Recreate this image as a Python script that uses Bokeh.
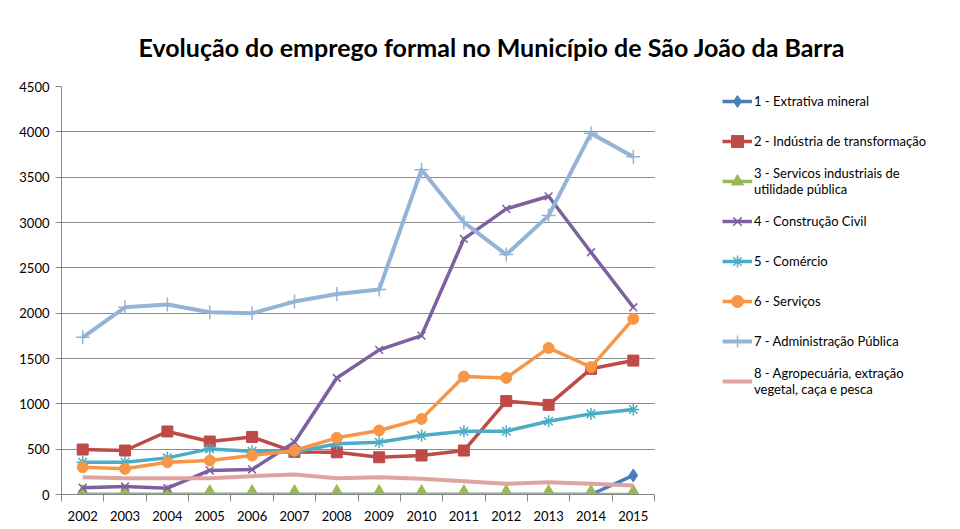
from bokeh.plotting import figure
from bokeh.models import FixedTicker, Legend, LegendItem, BoxAnnotation
from bokeh.embed import file_html
from bokeh.resources import INLINE

years = [2002, 2003, 2004, 2005, 2006, 2007, 2008, 2009, 2010, 2011, 2012, 2013, 2014, 2015]

extrativa = [0, 0, 0, 0, 0, 0, 0, 0, 0, 0, 0, 0, 0, 210]
industria = [496, 485, 695, 584, 635, 470, 465, 411, 430, 485, 1030, 989, 1386, 1477]
servicos_ind = [0, 0, 0, 0, 0, 0, 0, 0, 0, 0, 0, 0, 0, 0]
construcao = [74, 88, 70, 265, 276, 577, 1285, 1595, 1753, 2819, 3150, 3289, 2672, 2065]
comercio = [356, 356, 404, 503, 478, 467, 559, 577, 650, 698, 698, 808, 889, 937]
servicos = [301, 283, 356, 375, 430, 485, 625, 706, 834, 1301, 1286, 1617, 1404, 1937]
administracao = [1734, 2065, 2095, 2010, 1999, 2128, 2212, 2260, 3583, 3002, 2646, 3076, 3983, 3726]
agropecuaria = [191, 180, 180, 180, 202, 220, 180, 191, 173, 147, 118, 136, 118, 99]

labels = [
    "1 - Extrativa mineral",
    "2 - Indústria de transformação",
    "3 - Servicos industriais de\nutilidade pública",
    "4 - Construção Civil",
    "5 - Comércio",
    "6 - Serviços",
    "7 - Administração Pública",
    "8 - Agropecuária, extração\nvegetal, caça e pesca",
]
y_ticks = [0, 500, 1000, 1500, 2000, 2500, 3000, 3500, 4000, 4500]

series = [extrativa, industria, servicos_ind, construcao, comercio, servicos, administracao, agropecuaria]
colors = ["#4A7EBB", "#BE4B48", "#98B954", "#7D60A0", "#4BACC6", "#F79646", "#95B3D7", "#DFA3A2"]
markers = ["diamond", "square", "triangle", "x", "asterisk", "circle", "cross", None]
msizes = [13, 11, 17, 11, 12, 11, 14, 0]

FONT = "Lato"

# plot area: 593 px for the 14 categories; frame extended to the right to host the legend
cat_px = 593 / len(years)
frame_w = 891
x0 = years[0] - 0.5
x_plot_end = years[-1] + 0.5
x1 = x0 + frame_w / cat_px

p = figure(frame_width=frame_w, frame_height=408, x_range=(x0, x1), y_range=(0, 4500),
           output_backend="svg", toolbar_location=None,
           min_border_left=61, min_border_right=0, min_border_top=86, min_border_bottom=30)

p.title.text = "Evolução do emprego formal no Município de São João da Barra"
p.title.text_font = FONT
p.title.text_font_size = "25px"
p.title.text_font_style = "bold"
p.title.align = "left"
p.title.offset = 77
p.title.standoff = 50
p.title.text_color = "#000000"

p.outline_line_color = None
p.xgrid.grid_line_color = None
p.ygrid.grid_line_color = "#8C8C8C"
p.ygrid.grid_line_width = 1

p.yaxis.ticker = FixedTicker(ticks=y_ticks)
p.xaxis.ticker = FixedTicker(ticks=years, minor_ticks=[y - 0.5 for y in years] + [x_plot_end])
p.xaxis.bounds = (x0, x_plot_end)
for ax in (p.xaxis, p.yaxis):
    ax.axis_line_color = "#868686"
    ax.major_label_text_font = FONT
    ax.major_label_text_font_size = "13px"
    ax.major_label_text_color = "#000000"
p.yaxis.major_tick_line_color = "#868686"
p.yaxis.major_tick_out = 6
p.yaxis.major_tick_in = 0
p.yaxis.minor_tick_line_color = None
p.yaxis.major_label_standoff = 6
p.xaxis.major_tick_line_color = None
p.xaxis.minor_tick_line_color = "#868686"
p.xaxis.minor_tick_out = 7
p.xaxis.minor_tick_in = 0
p.xaxis.major_label_standoff = 9

items = []
for i, (vals, col, mk, ms, lab) in enumerate(zip(series, colors, markers, msizes, labels)):
    rs = []
    lw = 4 if i in (6, 7) else 3.5
    rl = p.line(years, vals, line_color=col, line_width=lw, line_join="round")
    rs.append(rl)
    if mk is not None:
        if mk in ("x", "asterisk", "cross"):
            rm = p.scatter(years, vals, marker=mk, size=ms, line_color=col, line_width=1.5, fill_color=None)
        else:
            rm = p.scatter(years, vals, marker=mk, size=ms, line_color=col, fill_color=col)
        rs.append(rm)
    items.append(LegendItem(label=lab, renderers=rs))

# blank out the gridlines in the legend area (right of the plot area)
p.add_layout(BoxAnnotation(left=x_plot_end + 0.01, fill_color="white", fill_alpha=1.0, line_color=None))

legend = Legend(items=items, location=(661, 97), padding=0, spacing=8, margin=0,
                glyph_width=30, glyph_height=32, label_height=32, label_standoff=2,
                label_text_font=FONT, label_text_font_size="13px", label_text_color="#000000",
                border_line_color=None, background_fill_alpha=0)
p.add_layout(legend)

open("out.html", "w").write(file_html(p, INLINE))
